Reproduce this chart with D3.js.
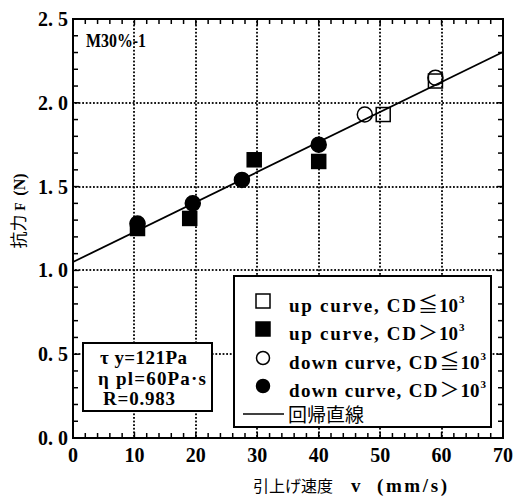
<!DOCTYPE html>
<html><head><meta charset="utf-8">
<script src="https://cdn.jsdelivr.net/npm/d3@7"></script>
<style>
html,body{margin:0;padding:0;background:#fff;}
text{white-space:pre;}
</style></head>
<body>
<svg id="c" width="516" height="500"></svg>
<script>
// ---- data ----
const upLow = [{v:50.5,F:1.93},{v:59,F:2.13}];
const upHigh = [{v:10.5,F:1.25},{v:19,F:1.31},{v:29.5,F:1.66},{v:40,F:1.65}];
const downLow = [{v:47.5,F:1.93},{v:59,F:2.15}];
const downHigh = [{v:10.5,F:1.28},{v:19.5,F:1.40},{v:27.5,F:1.54},{v:40,F:1.75}];
const regression = {intercept:1.05, slope:0.0179};
const xTicks = [0,10,20,30,40,50,60,70];
const xTickLabels = ["0","10","20","30","40","50","60","70"];
const yTicks = [0,0.5,1.0,1.5,2.0,2.5];
const yTickLabels = ["0. 0","0. 5","1. 0","1. 5","2. 0","2. 5"];
const xMinor = d3.range(0,70.01,2);
const yMinor = d3.range(0,2.501,0.1);
const legendItems = [
  {name:"up curve, CD", rel:"≦", shape:"square", fill:false},
  {name:"up curve, CD", rel:"＞", shape:"square", fill:true},
  {name:"down curve, CD", rel:"≦", shape:"circle", fill:false},
  {name:"down curve, CD", rel:"＞", shape:"circle", fill:true}
];
const lineLabel = "回帰直線";
const paramLines = ["τ y=121Pa","η pl=60Pa·s","R=0.983"];
const sampleLabel = "M30%-1";

// ---- layout ----
const svg = d3.select("#c");
const L=73, R=503, T=19, B=438;
const x = d3.scaleLinear().domain([0,70]).range([L,R]);
const y = d3.scaleLinear().domain([0,2.5]).range([B,T]);
const serif = "'Liberation Serif','DejaVu Serif',serif";
const cjk = "'Noto Sans CJK JP',sans-serif";

// dotted grid drawn as small filled dots along each gridline
const step = 3.6, dot = 1.8;
const grid = svg.append("g").attr("fill","#000");
xTicks.slice(1,-1).forEach(t=>{
  const gx = Math.round(x(t));
  grid.append("g").selectAll("rect").data(d3.range(T+2,B-1,step)).join("rect")
   .attr("x",gx-dot/2).attr("y",d=>d).attr("width",dot).attr("height",dot);
});
yTicks.slice(1,-1).forEach(t=>{
  const gy = Math.round(y(t));
  grid.append("g").selectAll("rect").data(d3.range(L+2,R-1,step)).join("rect")
   .attr("y",gy-dot/2).attr("x",d=>d).attr("width",dot).attr("height",dot);
});

// ticks on all sides (inward)
const tk = svg.append("g");
function tickLen(isMajor){return isMajor?6:5;}
xMinor.forEach(d=>{
  const maj = Math.abs(d%10)<1e-6;
  tk.append("line").attr("x1",x(d)).attr("x2",x(d)).attr("y1",B).attr("y2",B-tickLen(maj)).attr("stroke","#000").attr("stroke-width",1.5);
  tk.append("line").attr("x1",x(d)).attr("x2",x(d)).attr("y1",T).attr("y2",T+tickLen(maj)).attr("stroke","#000").attr("stroke-width",1.5);
});
yMinor.forEach(d=>{
  const maj = Math.abs((d*10)%5)<1e-6;
  tk.append("line").attr("y1",y(d)).attr("y2",y(d)).attr("x1",L).attr("x2",L+tickLen(maj)).attr("stroke","#000").attr("stroke-width",1.5);
  tk.append("line").attr("y1",y(d)).attr("y2",y(d)).attr("x1",R).attr("x2",R-tickLen(maj)).attr("stroke","#000").attr("stroke-width",1.5);
});

// regression line
const lineGen = d3.line().x(d=>x(d)).y(d=>y(regression.intercept+regression.slope*d));
svg.append("path").attr("d",lineGen([0,70])).attr("fill","none").attr("stroke","#000").attr("stroke-width",1.8);

// markers
function drawSquares(data, filled){
  svg.append("g").selectAll("rect").data(data).join("rect")
   .attr("x",d=>x(d.v)-7).attr("y",d=>y(d.F)-7).attr("width",14).attr("height",14)
   .attr("fill",filled?"#000":"none").attr("stroke","#000").attr("stroke-width",1.5);
}
function drawCircles(data, filled){
  svg.append("g").selectAll("circle").data(data).join("circle")
   .attr("cx",d=>x(d.v)).attr("cy",d=>y(d.F)).attr("r",7.5)
   .attr("fill",filled?"#000":"none").attr("stroke","#000").attr("stroke-width",1.5);
}
drawSquares(upLow,false);
drawCircles(downLow,false);
drawSquares(upHigh,true);
drawCircles(downHigh,true);

// frame
svg.append("rect").attr("x",L).attr("y",T).attr("width",R-L).attr("height",B-T)
 .attr("fill","none").attr("stroke","#000").attr("stroke-width",2);

// tick labels
svg.append("g").selectAll("text").data(xTicks).join("text")
 .attr("x",d=>x(d)).attr("y",462).attr("text-anchor","middle")
 .attr("font-family",serif).attr("font-weight","bold").attr("font-size",20)
 .text((d,i)=>xTickLabels[i]);
svg.append("g").selectAll("text").data(yTicks).join("text")
 .attr("x",68).attr("y",d=>y(d)+7).attr("text-anchor","end")
 .attr("font-family",serif).attr("font-weight","bold").attr("font-size",20)
 .text((d,i)=>yTickLabels[i]);

// axis titles
const xt = svg.append("text").attr("y",492).attr("font-size",16);
xt.append("tspan").attr("x",253).attr("font-family",cjk).text("引上げ速度");
xt.append("tspan").attr("x",351).attr("font-family",serif).attr("font-size",19).attr("font-weight","bold").text("v");
xt.append("tspan").attr("x",377).attr("font-family",serif).attr("font-size",19).attr("font-weight","bold")
  .attr("textLength",70).text("(mm/s)");

const yt = svg.append("text").attr("transform","translate(25,211) rotate(-90)")
 .attr("text-anchor","middle").attr("font-family",cjk).attr("font-size",17);
yt.append("tspan").text("抗力 ");
yt.append("tspan").attr("font-size",14).attr("font-family",serif).attr("font-weight","bold").text("F  ");
yt.append("tspan").attr("font-size",16).attr("font-family",serif).attr("font-weight","bold").text("(N)");

// sample label
svg.append("text").attr("x",86).attr("y",47).attr("font-family",serif).attr("font-weight","bold")
 .attr("font-size",18).attr("textLength",60).attr("lengthAdjust","spacingAndGlyphs").text(sampleLabel);

// parameter box
svg.append("rect").attr("x",83).attr("y",343).attr("width",129).attr("height",68)
 .attr("fill","#fff").attr("stroke","#000").attr("stroke-width",2);
const pX=[100,98,103], pY=[364,385,405], pW=[87,108,72];
paramLines.forEach((t,i)=>{
  svg.append("text").attr("x",pX[i]).attr("y",pY[i]).attr("font-family",serif).attr("font-weight","bold")
   .attr("font-size",19).attr("textLength",pW[i]).text(t);
});

// legend
svg.append("rect").attr("x",234).attr("y",276).attr("width",257).attr("height",151)
 .attr("fill","#fff").attr("stroke","#000").attr("stroke-width",2);
const rowY=[301,329,358,386];
const adv = 10.75;
legendItems.forEach((it,i)=>{
  const cy=rowY[i], cx=263;
  if(it.shape==="square"){
    svg.append("rect").attr("x",cx-7).attr("y",cy-7).attr("width",14).attr("height",14)
     .attr("fill",it.fill?"#000":"#fff").attr("stroke","#000").attr("stroke-width",1.5);
  } else {
    svg.append("circle").attr("cx",cx).attr("cy",cy).attr("r",6.5)
     .attr("fill",it.fill?"#000":"#fff").attr("stroke","#000").attr("stroke-width",1.5);
  }
  const by = cy+11;
  const w = it.name.length*adv;
  const t = svg.append("text").attr("y",by).attr("font-family",serif).attr("font-weight","bold").attr("font-size",19);
  t.append("tspan").attr("x",289).attr("textLength",w-2).text(it.name);
  const x0 = 289+w;
  t.append("tspan").attr("x",x0).attr("font-family",cjk).attr("font-weight","normal").attr("font-size",20).text(it.rel);
  t.append("tspan").attr("x",x0+21).text("10");
  t.append("tspan").attr("x",x0+21+20).attr("dy",-9).attr("font-size",11).text("3");
});
svg.append("line").attr("x1",243).attr("x2",284).attr("y1",414).attr("y2",414).attr("stroke","#000").attr("stroke-width",1.5);
svg.append("text").attr("x",288).attr("y",422).attr("font-family",cjk).attr("font-size",19).text(lineLabel);
</script>
</body></html>
